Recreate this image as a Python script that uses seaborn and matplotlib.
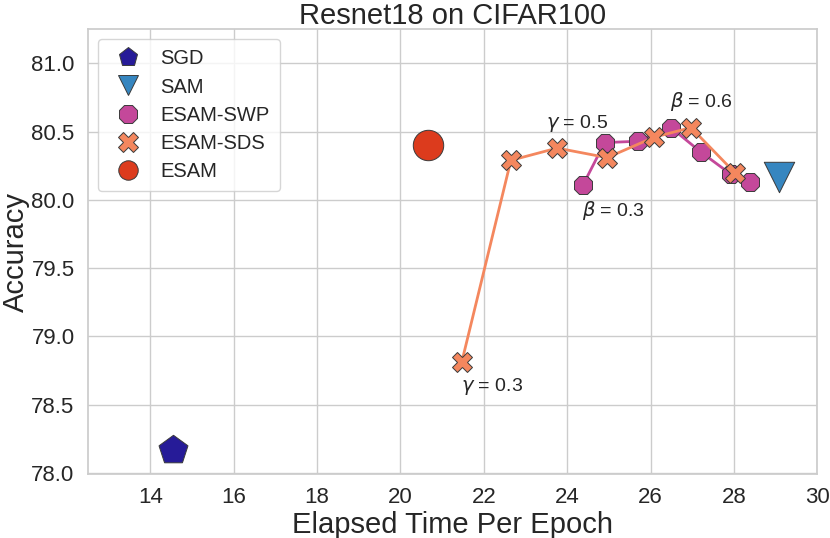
import matplotlib
matplotlib.use("Agg")
import matplotlib.pyplot as plt
from matplotlib.lines import Line2D
import seaborn as sns
import pandas as pd

# ---- data ----
sgd_time = [14.54]
sgd_acc = [78.17]
sam_time = [29.08]
sam_acc = [80.17]
esam_time = [20.66]
esam_acc = [80.40]
swp_time = [24.38, 24.90, 25.69, 26.49, 27.21, 27.92, 28.38]
swp_acc = [80.11, 80.42, 80.43, 80.53, 80.35, 80.19, 80.13]
sds_time = [21.47, 22.65, 23.76, 24.96, 26.09, 26.97, 28.02]
sds_acc = [78.81, 80.29, 80.38, 80.31, 80.46, 80.53, 80.20]

labels = ["SGD", "SAM", "ESAM-SWP", "ESAM-SDS", "ESAM"]
colors = {"SGD": "#261b98", "SAM": "#3686c0", "ESAM-SWP": "#c4489a",
          "ESAM-SDS": "#f4875e", "ESAM": "#dc3b1d"}
markers = {"SGD": "p", "SAM": "v", "ESAM-SWP": "8", "ESAM-SDS": "X", "ESAM": "o"}

annot_text = [r"$\gamma$ = 0.3", r"$\gamma$ = 0.5", r"$\beta$ = 0.3", r"$\beta$ = 0.6"]
annot_x = [22.19, 24.23, 25.12, 27.22]
annot_y = [78.635, 80.563, 79.92, 80.72]

sns.set_theme(style="whitegrid")
plt.rcParams['font.family'] = ['Liberation Sans', 'DejaVu Sans']

fig = plt.figure(figsize=(8.3, 5.38), dpi=100)
ax = fig.add_axes([0.1057, 0.1184, 0.879, 0.8271])

swp = pd.DataFrame({"t": swp_time, "acc": swp_acc})
sds = pd.DataFrame({"t": sds_time, "acc": sds_acc})

edge = "#3a3a3a"
sns.lineplot(data=swp, x="t", y="acc", ax=ax, color=colors["ESAM-SWP"], lw=2,
             marker=markers["ESAM-SWP"], markersize=14, markeredgecolor=edge,
             markeredgewidth=0.7, sort=False, zorder=3)
sns.lineplot(data=sds, x="t", y="acc", ax=ax, color=colors["ESAM-SDS"], lw=2,
             marker=markers["ESAM-SDS"], markersize=15, markeredgecolor=edge,
             markeredgewidth=0.7, sort=False, zorder=3)

for name, xs, ys in [("SGD", sgd_time, sgd_acc), ("SAM", sam_time, sam_acc),
                     ("ESAM", esam_time, esam_acc)]:
    sns.scatterplot(x=xs, y=ys, ax=ax, marker=markers[name], s=480,
                    color=colors[name], edgecolor=edge, linewidth=0.7, zorder=4)

for t, x, y in zip(annot_text, annot_x, annot_y):
    ax.text(x, y, t, ha="center", va="center", fontsize=14, color="#262626")

ax.set_xlim(12.5, 30)
ax.set_ylim(77.99, 81.25)
ax.set_xticks([14, 16, 18, 20, 22, 24, 26, 28, 30])
ax.set_yticks([78.0, 78.5, 79.0, 79.5, 80.0, 80.5, 81.0])
ax.set_yticklabels([f"{v:.1f}" for v in [78.0, 78.5, 79.0, 79.5, 80.0, 80.5, 81.0]])
ax.tick_params(labelsize=16, colors="#262626")
ax.set_xlabel("Elapsed Time Per Epoch", fontsize=21, color="#262626", labelpad=2)
ax.set_ylabel("Accuracy", fontsize=21, color="#262626", labelpad=1)
ax.set_title("Resnet18 on CIFAR100", fontsize=21, color="#262626", pad=4)

handles = []
for name in labels:
    handles.append(Line2D([], [], ls="none", marker=markers[name], markersize=14,
                          markerfacecolor=colors[name], markeredgecolor=edge,
                          markeredgewidth=0.7))
leg = ax.legend(handles, labels, loc="upper left", fontsize=14.5, labelspacing=0.45,
                borderpad=0.5, handletextpad=0.6, frameon=True,
                bbox_to_anchor=(0.0, 1.0))
for txt in leg.get_texts():
    txt.set_color("#262626")

fig.savefig("out.png", dpi=100)
